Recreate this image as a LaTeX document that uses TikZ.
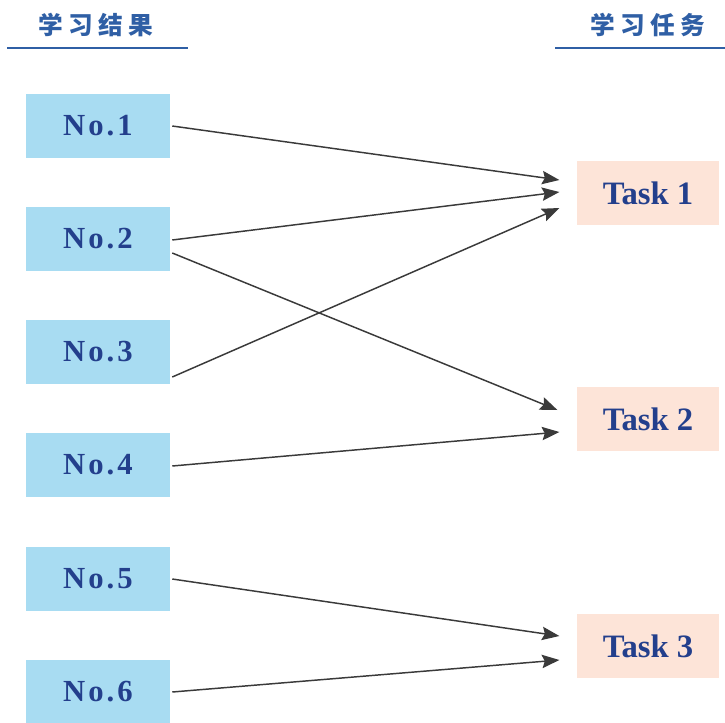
\documentclass[tikz,border=0pt]{standalone}
\usepackage{fontspec}
\setmainfont{Liberation Serif}
\newfontfamily\cjk[LetterSpace=22]{Noto Sans CJK SC}
\newfontfamily\nofont[LetterSpace=10]{Liberation Serif}
\usetikzlibrary{arrows.meta,calc}
\definecolor{txtblue}{HTML}{233F8C}
\definecolor{hdblue}{HTML}{2F5FA5}
\definecolor{leftfill}{HTML}{A8DCF2}
\definecolor{rightfill}{HTML}{FDE4D8}
\definecolor{arrowgray}{HTML}{3A3A3A}
\tikzset{
  outbox/.style={fill=leftfill, minimum width=108pt, minimum height=48pt, inner sep=0pt,
    text=txtblue, font=\nofont\fontsize{23}{26}\selectfont\bfseries},
  taskbox/.style={fill=rightfill, minimum width=107pt, minimum height=48pt, inner sep=0pt,
    text=txtblue, font=\fontsize{24.5}{28}\selectfont\bfseries},
  header/.style={text=hdblue, font=\cjk\fontsize{18.5}{22}\selectfont\bfseries, inner sep=0pt},
  hline/.style={draw=hdblue, line width=2.2pt},
  link/.style={draw=arrowgray, line width=1.1pt, -{Stealth[length=13pt,width=10pt,inset=2pt]}}
}
\begin{document}
\begin{tikzpicture}[x=0.75pt,y=-0.75pt]
\useasboundingbox[fill=white] (0,0) rectangle (725,722);
% headers
\node[header] (h1) at (96,25) {学习结果};
\node[header] (h2) at (648,25) {学习任务};
\coordinate (h1a) at (7,48); \coordinate (h1b) at (188,48);
\coordinate (h2a) at (555,48); \coordinate (h2b) at (725,48);
\draw[hline] (h1a) -- (h1b);
\draw[hline] (h2a) -- (h2b);
% left boxes
\node[outbox] (n1) at (98,126) {No.1};
\node[outbox] (n2) at (98,239) {No.2};
\node[outbox] (n3) at (98,352) {No.3};
\node[outbox] (n4) at (98,465) {No.4};
\node[outbox] (n5) at (98,579) {No.5};
\node[outbox] (n6) at (98,692) {No.6};
% right boxes
\node[taskbox] (t1) at (648,193) {Task 1};
\node[taskbox] (t2) at (648,419) {Task 2};
\node[taskbox] (t3) at (648,646) {Task 3};
% connectors
\draw[link] ($(n1.east)+(2,0)$) -- ($(t1.west)+(-17,-13)$);
\draw[link] ($(n2.east)+(2,1)$) -- ($(t1.west)+(-17,-1)$);
\draw[link] ($(n3.east)+(2,25)$) -- ($(t1.west)+(-17,15)$);
\draw[link] ($(n2.east)+(2,14)$) -- ($(t2.west)+(-19,-9)$);
\draw[link] ($(n4.east)+(2,1)$) -- ($(t2.west)+(-17,13)$);
\draw[link] ($(n5.east)+(2,0)$) -- ($(t3.west)+(-17,-10)$);
\draw[link] ($(n6.east)+(2,0)$) -- ($(t3.west)+(-17,14)$);
\end{tikzpicture}
\end{document}
